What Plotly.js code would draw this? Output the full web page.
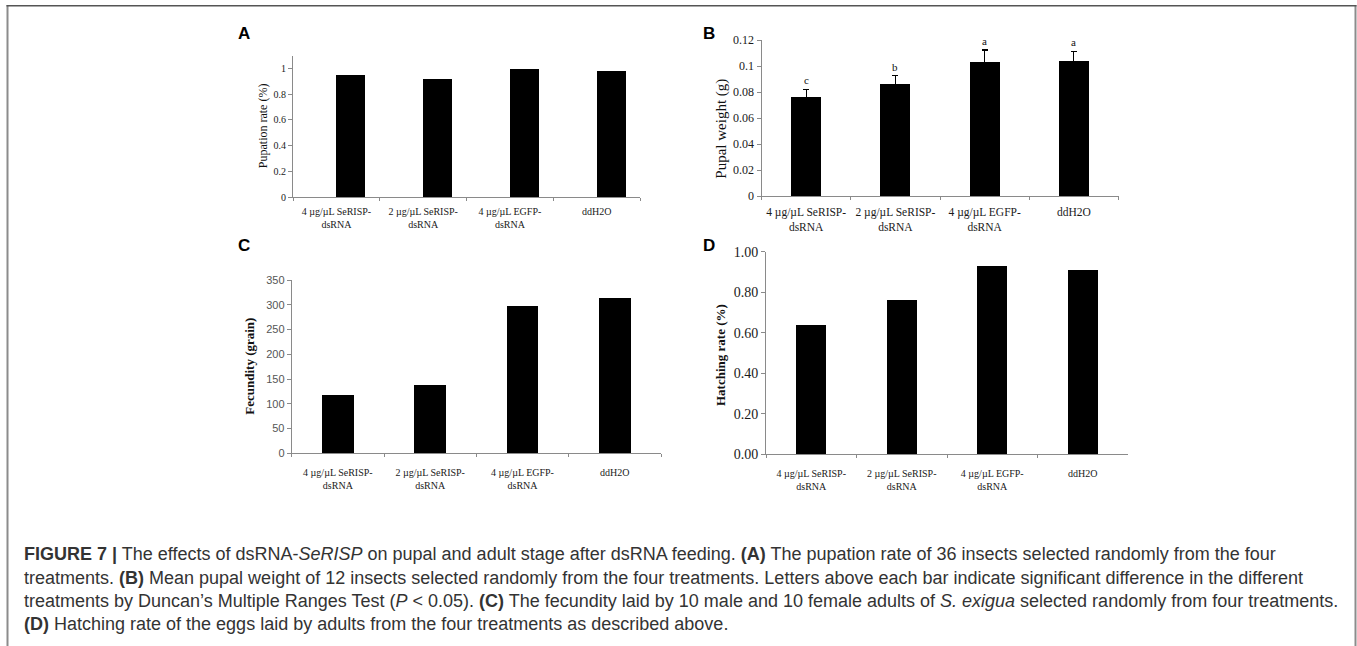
<!DOCTYPE html>
<html><head><meta charset="utf-8">
<script src="https://cdn.plot.ly/plotly-3.0.1.min.js"></script>
<style>html,body{margin:0;padding:0;background:#fff}#chart{width:1357px;height:646px}</style>
</head><body><div id="chart"></div>
<script>
const categories = ['4 µg/µL SeRISP-<br>dsRNA', '2 µg/µL SeRISP-<br>dsRNA', '4 µg/µL EGFP-<br>dsRNA', 'ddH2O'];
const pupationRate = [0.95, 0.92, 1.0, 0.98];
const pupalWeight = [0.076, 0.086, 0.103, 0.104];
const pupalWeightErr = [0.006, 0.0064, 0.0093, 0.0073];
const weightLetters = ['c', 'b', 'a', 'a'];
const fecundity = [118, 137, 297, 313];
const hatchingRate = [0.64, 0.763, 0.931, 0.908];
const panelLabels = ['A', 'B', 'C', 'D'];
const yTitles = ['Pupation rate (%)', 'Pupal weight (g)', 'Fecundity (grain)', 'Hatching rate (%)'];
const captionLines = [
  '<b>FIGURE 7 |</b> The effects of dsRNA-<i>SeRISP</i> on pupal and adult stage after dsRNA feeding. <b>(A)</b> The pupation rate of 36 insects selected randomly from the four',
  'treatments. <b>(B)</b> Mean pupal weight of 12 insects selected randomly from the four treatments. Letters above each bar indicate significant difference in the different',
  'treatments by Duncan\u2019s Multiple Ranges Test (<i>P</i> &lt; 0.05). <b>(C)</b> The fecundity laid by 10 male and 10 female adults of <i>S. exigua</i> selected randomly from four treatments.',
  '<b>(D)</b> Hatching rate of the eggs laid by adults from the four treatments as described above.'
];

const W = 1357, H = 646;
const px = x => x / W;
const py = y => 1 - y / H;

const SERIF = 'Liberation Serif, Times New Roman, serif';
const SANS = 'Liberation Sans, Arial, sans-serif';
const AX = '#8a8a8a';

function xAxis(x0, x1, anchor, size, standoff) {
  return {
    domain: [px(x0), px(x1)], anchor: anchor, type: 'category', range: [-0.5, 3.5],
    showline: true, linecolor: AX, linewidth: 1, ticks: 'outside', tickson: 'boundaries',
    ticklen: 3, tickcolor: AX, showgrid: false, zeroline: false, fixedrange: true,
    ticklabelstandoff: standoff,
    tickfont: {family: SERIF, size: size, color: '#1a1a1a'}
  };
}
function yAxis(y0, y1, anchor, range, dtick, font, fmt) {
  return {
    domain: [py(y0), py(y1)], anchor: anchor, range: range, dtick: dtick, tick0: 0,
    showline: true, linecolor: AX, linewidth: 1, ticks: 'outside', ticklen: 4, tickcolor: AX,
    showgrid: false, zeroline: false, fixedrange: true, tickfont: font, tickformat: fmt || ''
  };
}

const barStyle = {color: '#000', line: {width: 0}};
const traces = [
  {type: 'bar', x: categories, y: pupationRate, xaxis: 'x', yaxis: 'y', width: 0.335, offset: 0, marker: barStyle, hoverinfo: 'skip'},
  {type: 'bar', x: categories, y: pupalWeight, xaxis: 'x2', yaxis: 'y2', width: 0.336, marker: barStyle, hoverinfo: 'skip',
   error_y: {type: 'data', array: pupalWeightErr, visible: true, color: '#000', thickness: 1.2, width: 3}},
  {type: 'bar', x: categories, y: fecundity, xaxis: 'x3', yaxis: 'y3', width: 0.342, marker: barStyle, hoverinfo: 'skip'},
  {type: 'bar', x: categories, y: hatchingRate, xaxis: 'x4', yaxis: 'y4', width: 0.335, marker: barStyle, hoverinfo: 'skip'}
];

const annotations = [];
const letterPos = [[244, 34], [709, 33], [244, 246], [709, 246]];
panelLabels.forEach((t, i) => annotations.push({
  text: t, xref: 'paper', yref: 'paper', x: px(letterPos[i][0]), y: py(letterPos[i][1]),
  xanchor: 'center', yanchor: 'middle', showarrow: false,
  font: {family: SANS, size: 17, color: '#000', weight: 'bold'}
}));
const titlePos = [[262.7, 125.5, 12, 'normal'], [721.7, 129, 15, 'normal'], [250, 366.7, 13, 'bold'], [720, 355, 13, 'bold']];
yTitles.forEach((t, i) => annotations.push({
  text: t, xref: 'paper', yref: 'paper', x: px(titlePos[i][0]), y: py(titlePos[i][1]),
  xanchor: 'center', yanchor: 'middle', showarrow: false, textangle: -90,
  font: {family: SERIF, size: titlePos[i][2], color: '#111', weight: titlePos[i][3]}
}));
weightLetters.forEach((t, i) => annotations.push({
  text: t, xref: 'x2', yref: 'y2', x: categories[i], y: pupalWeight[i] + pupalWeightErr[i],
  xanchor: 'center', yanchor: 'bottom', yshift: 1, showarrow: false,
  font: {family: SERIF, size: 11, color: '#111'}
}));
const capY = [554, 578, 601, 624];
captionLines.forEach((t, i) => annotations.push({
  text: t, xref: 'paper', yref: 'paper', x: px(22), y: py(capY[i]),
  xanchor: 'left', yanchor: 'middle', showarrow: false, align: 'left',
  font: {family: SANS, size: 18, color: '#333'}
}));

const shapes = [
  {type: 'line', xref: 'paper', yref: 'paper', x0: px(7.5), x1: px(7.5), y0: py(5), y1: 0, line: {color: '#8c8c8c', width: 2}},
  {type: 'line', xref: 'paper', yref: 'paper', x0: px(1355.5), x1: px(1355.5), y0: py(5), y1: 0, line: {color: '#8c8c8c', width: 2}},
  {type: 'line', xref: 'paper', yref: 'paper', x0: px(6.5), x1: px(1356.5), y0: py(5.7), y1: py(5.7), line: {color: '#555', width: 1.5}}
];

const layout = {
  width: W, height: H, margin: {l: 0, r: 0, t: 0, b: 0},
  paper_bgcolor: '#fff', plot_bgcolor: 'rgba(0,0,0,0)', showlegend: false, bargap: 0,
  xaxis: xAxis(293, 640, 'y', 10, 5),
  yaxis: yAxis(197, 55.7, 'x', [0, 1.1], 0.2, {family: SERIF, size: 10, color: '#1a1a1a'}),
  xaxis2: xAxis(761.5, 1118.5, 'y2', 11.5, 5),
  yaxis2: yAxis(196, 40, 'x2', [0, 0.12], 0.02, {family: SERIF, size: 12, color: '#1a1a1a'}),
  xaxis3: xAxis(291.7, 661, 'y3', 10, 10),
  yaxis3: yAxis(453.3, 280, 'x3', [0, 350], 50, {family: SANS, size: 11, color: '#555'}),
  xaxis4: xAxis(766, 1128, 'y4', 10, 10),
  yaxis4: yAxis(454.3, 251.7, 'x4', [0, 1], 0.2, {family: SERIF, size: 14, color: '#1a1a1a'}, '.2f'),
  annotations: annotations, shapes: shapes
};

Plotly.newPlot('chart', traces, layout, {staticPlot: true, displayModeBar: false});
</script></body></html>
